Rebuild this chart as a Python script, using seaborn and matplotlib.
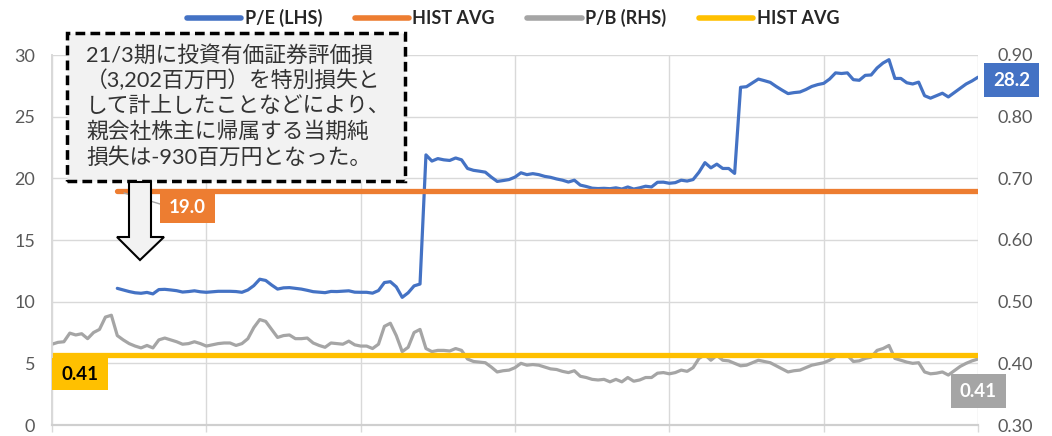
import numpy as np
import pandas as pd
import seaborn as sns
import matplotlib.pyplot as plt
from matplotlib.patches import Rectangle, Polygon
from matplotlib.lines import Line2D

sns.set_theme(style="white")
plt.rcParams['font.family'] = ['Lato', 'Noto Sans CJK JP', 'DejaVu Sans']

W, H = 1052, 436

# weekly P/E (LHS), first 11 weeks not available
pe = [np.nan] * 11 + [
    11.08, 10.95, 10.82, 10.72, 10.68, 10.75, 10.63, 10.98, 11.00, 10.95,
    10.89, 10.78, 10.82, 10.88, 10.80, 10.76, 10.80, 10.84, 10.84, 10.84,
    10.82, 10.76, 10.95, 11.30, 11.82, 11.72, 11.35, 11.02, 11.12, 11.14,
    11.08, 11.02, 10.92, 10.81, 10.77, 10.73, 10.83, 10.82, 10.85, 10.88,
    10.77, 10.76, 10.76, 10.69, 10.90, 11.55, 11.62, 11.20, 10.35, 10.72,
    11.28, 11.43, 21.90, 21.40, 21.60, 21.50, 21.45, 21.65, 21.50, 20.80,
    20.65, 20.58, 20.50, 20.10, 19.75, 19.82, 19.90, 20.10, 20.45, 20.30,
    20.38, 20.30, 20.16, 20.08, 19.95, 19.85, 19.70, 19.85, 19.45, 19.34,
    19.20, 19.17, 19.19, 19.16, 19.23, 19.13, 19.30, 19.13, 19.23, 19.36,
    19.30, 19.68, 19.69, 19.60, 19.65, 19.85, 19.78, 19.90, 20.50, 21.27,
    20.85, 21.15, 20.80, 20.80, 20.40, 27.38, 27.43, 27.74, 28.05, 27.92,
    27.78, 27.45, 27.15, 26.87, 26.95, 27.00, 27.20, 27.45, 27.60, 27.70,
    28.05, 28.55, 28.50, 28.55, 28.00, 27.95, 28.35, 28.38, 28.95, 29.35,
    29.62, 28.10, 28.10, 27.75, 27.65, 27.80, 26.70, 26.50, 26.70, 26.90,
    26.60, 26.95, 27.30, 27.65, 27.90, 28.20,
]

# weekly P/B (RHS)
pb = [
    0.431, 0.434, 0.435, 0.449, 0.446, 0.448, 0.440, 0.450, 0.455, 0.475,
    0.478, 0.445, 0.438, 0.432, 0.428, 0.425, 0.429, 0.425, 0.438, 0.441,
    0.438, 0.435, 0.431, 0.432, 0.435, 0.432, 0.428, 0.430, 0.432, 0.433,
    0.433, 0.429, 0.432, 0.440, 0.458, 0.471, 0.468, 0.455, 0.442, 0.445,
    0.446, 0.440, 0.440, 0.441, 0.433, 0.429, 0.426, 0.433, 0.432, 0.431,
    0.436, 0.430, 0.428, 0.428, 0.424, 0.431, 0.460, 0.465, 0.445, 0.419,
    0.426, 0.450, 0.455, 0.424, 0.419, 0.421, 0.421, 0.420, 0.424, 0.421,
    0.407, 0.403, 0.402, 0.401, 0.394, 0.386, 0.388, 0.389, 0.393, 0.400,
    0.397, 0.398, 0.397, 0.394, 0.391, 0.390, 0.387, 0.385, 0.388, 0.379,
    0.377, 0.374, 0.373, 0.374, 0.370, 0.374, 0.370, 0.377, 0.371, 0.373,
    0.377, 0.377, 0.384, 0.385, 0.383, 0.385, 0.389, 0.387, 0.393, 0.408,
    0.414, 0.405, 0.413, 0.405, 0.404, 0.400, 0.396, 0.397, 0.401, 0.405,
    0.403, 0.401, 0.396, 0.391, 0.386, 0.388, 0.389, 0.393, 0.397, 0.399,
    0.401, 0.405, 0.411, 0.414, 0.413, 0.403, 0.404, 0.408, 0.410, 0.421,
    0.424, 0.429, 0.408, 0.405, 0.402, 0.400, 0.401, 0.386, 0.383, 0.384,
    0.386, 0.381, 0.388, 0.395, 0.400, 0.404, 0.407,
]

pe_avg = 19.0
pb_avg = 0.414

note_lines = [
    "21/3期に投資有価証券評価損",
    "（3,202百万円）を特別損失と",
    "して計上したことなどにより、",
    "親会社株主に帰属する当期純",
    "損失は-930百万円となった。",
]

BLUE, ORANGE, GRAY, YELLOW = "#4472C4", "#ED7D31", "#A5A5A5", "#FFC000"
GRID = "#d9d9d9"
TXT = "#595959"

df = pd.DataFrame({"week": np.arange(len(pb)), "pe": pe, "pb": pb})
df["pe_avg"] = np.where(df["pe"].notna(), pe_avg, np.nan)
df["pb_avg"] = pb_avg


def fx(x):
    return x / W


def fy(y):
    return 1 - y / H


fig = plt.figure(figsize=(W / 100, H / 100), dpi=100)
ax = fig.add_axes([fx(52), fy(425), fx(978) - fx(52), fy(55) - fy(425)])
ax2 = ax.twinx()

sns.lineplot(data=df, x="week", y="pe", ax=ax, color=BLUE, lw=2.3, label="P/E (LHS)", legend=False)
sns.lineplot(data=df, x="week", y="pe_avg", ax=ax, color=ORANGE, lw=3.8, label="HIST AVG", legend=False)
sns.lineplot(data=df, x="week", y="pb", ax=ax2, color=GRAY, lw=2.3, label="P/B (RHS)", legend=False)
sns.lineplot(data=df, x="week", y="pb_avg", ax=ax2, color=YELLOW, lw=3.8, label="HIST AVG", legend=False)

n = len(pb) - 1
ax.set_xlim(0, n)
ax.set_ylim(0, 30)
ax2.set_ylim(0.30, 0.90)
ax.set_xticks(np.arange(0, n + 1, 26))
ax.set_xticklabels([])
ax.set_yticks(np.arange(0, 31, 5))
ax2.set_yticks(np.arange(0.30, 0.91, 0.10))
ax2.set_yticklabels([f"{v:.2f}" for v in np.arange(0.30, 0.91, 0.10)])
ax.set_xlabel("")
ax.set_ylabel("")
ax2.set_ylabel("")

ax.grid(True, color=GRID, lw=1)
ax.tick_params(axis="y", length=0, pad=12, labelsize=13, labelcolor=TXT)
ax2.tick_params(axis="y", length=0, pad=14, labelsize=13, labelcolor=TXT)
ax.tick_params(axis="x", length=5, color=GRID, width=1, direction="out", bottom=True)
for a in (ax, ax2):
    for s in ("top", "right"):
        a.spines[s].set_visible(False)
    a.spines["left"].set_color(GRID)
    a.spines["bottom"].set_color("#cfcfcf")
    a.spines["bottom"].set_linewidth(1.5)

h1, l1 = ax.get_legend_handles_labels()
h2, l2 = ax2.get_legend_handles_labels()
leg = fig.legend(h1 + h2, l1 + l2, ncol=4, loc="center", bbox_to_anchor=(fx(513), fy(18)),
                 frameon=False, handlelength=3.0, handletextpad=0.2, columnspacing=1.8,
                 prop={"weight": "bold", "size": 13})
for line in leg.get_lines():
    line.set_linewidth(4)
    line.set_solid_capstyle("round")

# annotation box with dashed border
fig.patches.append(Rectangle((fx(67), fy(181)), fx(405) - fx(67), fy(33) - fy(181),
                             transform=fig.transFigure, facecolor="#f2f2f2", edgecolor="black",
                             lw=2.5, linestyle=(0, (2.8, 1.5)), zorder=5))
for i, t in enumerate(note_lines):
    fig.text(fx(86), fy(55 + i * 25.5), t, ha="left", va="center", fontsize=15.7,
             color="#333333", zorder=6)

# hollow down arrow
arrow = [(129, 182), (151, 182), (151, 237), (164, 237), (140, 260), (117, 237), (129, 237)]
fig.patches.append(Polygon([(fx(x), fy(y)) for x, y in arrow], closed=True, transform=fig.transFigure,
                           facecolor="#f2f2f2", edgecolor="black", lw=1.5, zorder=5))

# data labels
fig.lines.append(Line2D([fx(124), fx(160)], [fy(193), fy(204)], transform=fig.transFigure,
                        color="#a6a6a6", lw=1, zorder=4))


def tag(x0, y0, x1, y1, text, fc, tc):
    fig.patches.append(Rectangle((fx(x0), fy(y1)), fx(x1) - fx(x0), fy(y0) - fy(y1),
                                 transform=fig.transFigure, facecolor=fc, edgecolor="none", zorder=7))
    fig.text(fx((x0 + x1) / 2), fy((y0 + y1) / 2), text, ha="center", va="center",
             fontsize=13.5, weight="bold", color=tc, zorder=8)


tag(160, 192, 215, 223, f"{pe_avg:.1f}", ORANGE, "white")
tag(52, 358, 108, 390, f"{pb_avg:.2f}", YELLOW, "black")
tag(984, 63, 1039, 97, f"{pe[-1]:.1f}", BLUE, "white")
tag(951, 374, 1006, 408, f"{pb[-1]:.2f}", GRAY, "white")

fig.savefig("out.png", dpi=100)
